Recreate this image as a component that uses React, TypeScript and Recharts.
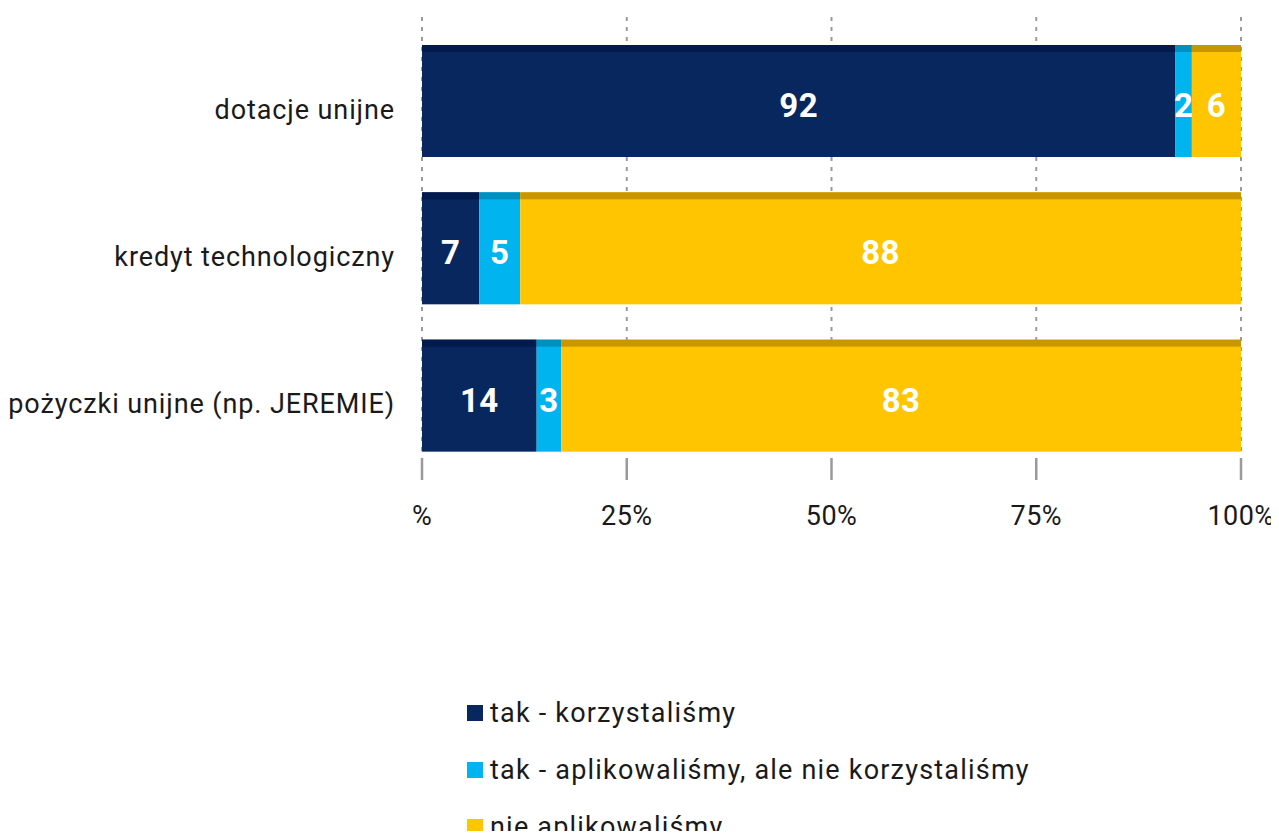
import React from 'react';
import { BarChart, Bar, XAxis, YAxis, CartesianGrid, LabelList, Legend } from 'recharts';

const categories = ['dotacje unijne', 'kredyt technologiczny', 'pożyczki unijne (np. JEREMIE)'];
const korzystalismy = [92, 7, 14];
const aplikowalismy = [2, 5, 3];
const nieAplikowalismy = [6, 88, 83];
const xTicks = [0, 25, 50, 75, 100];
const xTickLabels = ['%', '25%', '50%', '75%', '100%'];

const series = [
  { key: 'a', name: 'tak - korzystaliśmy', fill: '#08275f', top: '#021a4c' },
  { key: 'b', name: 'tak - aplikowaliśmy, ale nie korzystaliśmy', fill: '#00b4f0', top: '#0090c0' },
  { key: 'c', name: 'nie aplikowaliśmy', fill: '#ffc600', top: '#c89600' },
];

const data = categories.map((name, i) => ({
  name,
  a: korzystalismy[i],
  b: aplikowalismy[i],
  c: nieAplikowalismy[i],
}));

const FONT = 'Roboto, "Noto Sans", sans-serif';

const makeShape = (fill: string, top: string) => (props: any) => {
  const { x, y, width, height } = props;
  if (!width || width <= 0) return null;
  return (
    <g>
      <rect x={x} y={y} width={width} height={height} fill={fill} />
      <rect x={x} y={y} width={width} height={7} fill={top} />
    </g>
  );
};

const XTick = (props: any) => {
  const { x, y, payload } = props;
  const idx = xTicks.indexOf(payload.value);
  return (
    <g>
      <line x1={x} x2={x} y1={y - 11} y2={y + 11} stroke="#9a9a9a" strokeWidth={2.5} />
      <text x={x} y={y + 56} textAnchor="middle" fontSize={27} letterSpacing={0.4} fill="#1a1a1a" fontFamily={FONT}>
        {xTickLabels[idx]}
      </text>
    </g>
  );
};

const YTick = (props: any) => {
  const { x, y, payload } = props;
  return (
    <text x={x - 27} y={y} dy={18} textAnchor="end" fontSize={27} letterSpacing={0.9} fill="#1a1a1a" fontFamily={FONT}>
      {payload.value}
    </text>
  );
};

const BarLabel = (props: any) => {
  const { x, y, width, height, value } = props;
  return (
    <text
      x={x + width / 2}
      y={y + height / 2 + 16}
      textAnchor="middle"
      fontSize={33}
      fontWeight={700}
      letterSpacing={0.5}
      fill="#ffffff"
      fontFamily={FONT}
    >
      {value}
    </text>
  );
};

const LegendContent = () => (
  <div style={{ fontFamily: FONT, fontSize: 27, letterSpacing: 1.2, color: '#1a1a1a' }}>
    {series.map((s) => (
      <div key={s.key} style={{ display: 'flex', alignItems: 'center', height: 57 }}>
        <div style={{ width: 16, height: 16, background: s.fill, marginRight: 7 }} />
        <span>{s.name}</span>
      </div>
    ))}
  </div>
);

export default function App() {
  return (
    <div style={{ width: 1271, height: 831, marginBottom: -8, overflow: 'hidden' }}>
      <BarChart
        width={1271}
        height={831}
        data={data}
        layout="vertical"
        margin={{ top: 19, right: 38, bottom: 310, left: 0 }}
      >
        <CartesianGrid
          horizontal={false}
          vertical
          y={9}
          height={435}
          stroke="#9a9a9a"
          strokeWidth={2}
          strokeDasharray="4 6"
        />
        <XAxis
          type="number"
          domain={[0, 100]}
          ticks={xTicks}
          axisLine={false}
          tickLine={false}
          tickSize={0}
          tickMargin={0}
          height={60}
          tick={<XTick />}
          interval={0}
        />
        <YAxis
          type="category"
          dataKey="name"
          width={414}
          axisLine={false}
          tickLine={false}
          tickSize={0}
          tickMargin={0}
          tick={<YTick />}
          interval={0}
        />
        <Legend
          layout="vertical"
          verticalAlign="middle"
          align="center"
          content={<LegendContent />}
          wrapperStyle={{ left: 459, top: 676, width: 780 }}
        />
        {series.map((s) => (
          <Bar
            key={s.key}
            dataKey={s.key}
            name={s.name}
            stackId="s"
            fill={s.fill}
            barSize={112}
            shape={makeShape(s.fill, s.top)}
            isAnimationActive={false}
          >
            <LabelList dataKey={s.key} content={<BarLabel />} />
          </Bar>
        ))}
      </BarChart>
    </div>
  );
}
